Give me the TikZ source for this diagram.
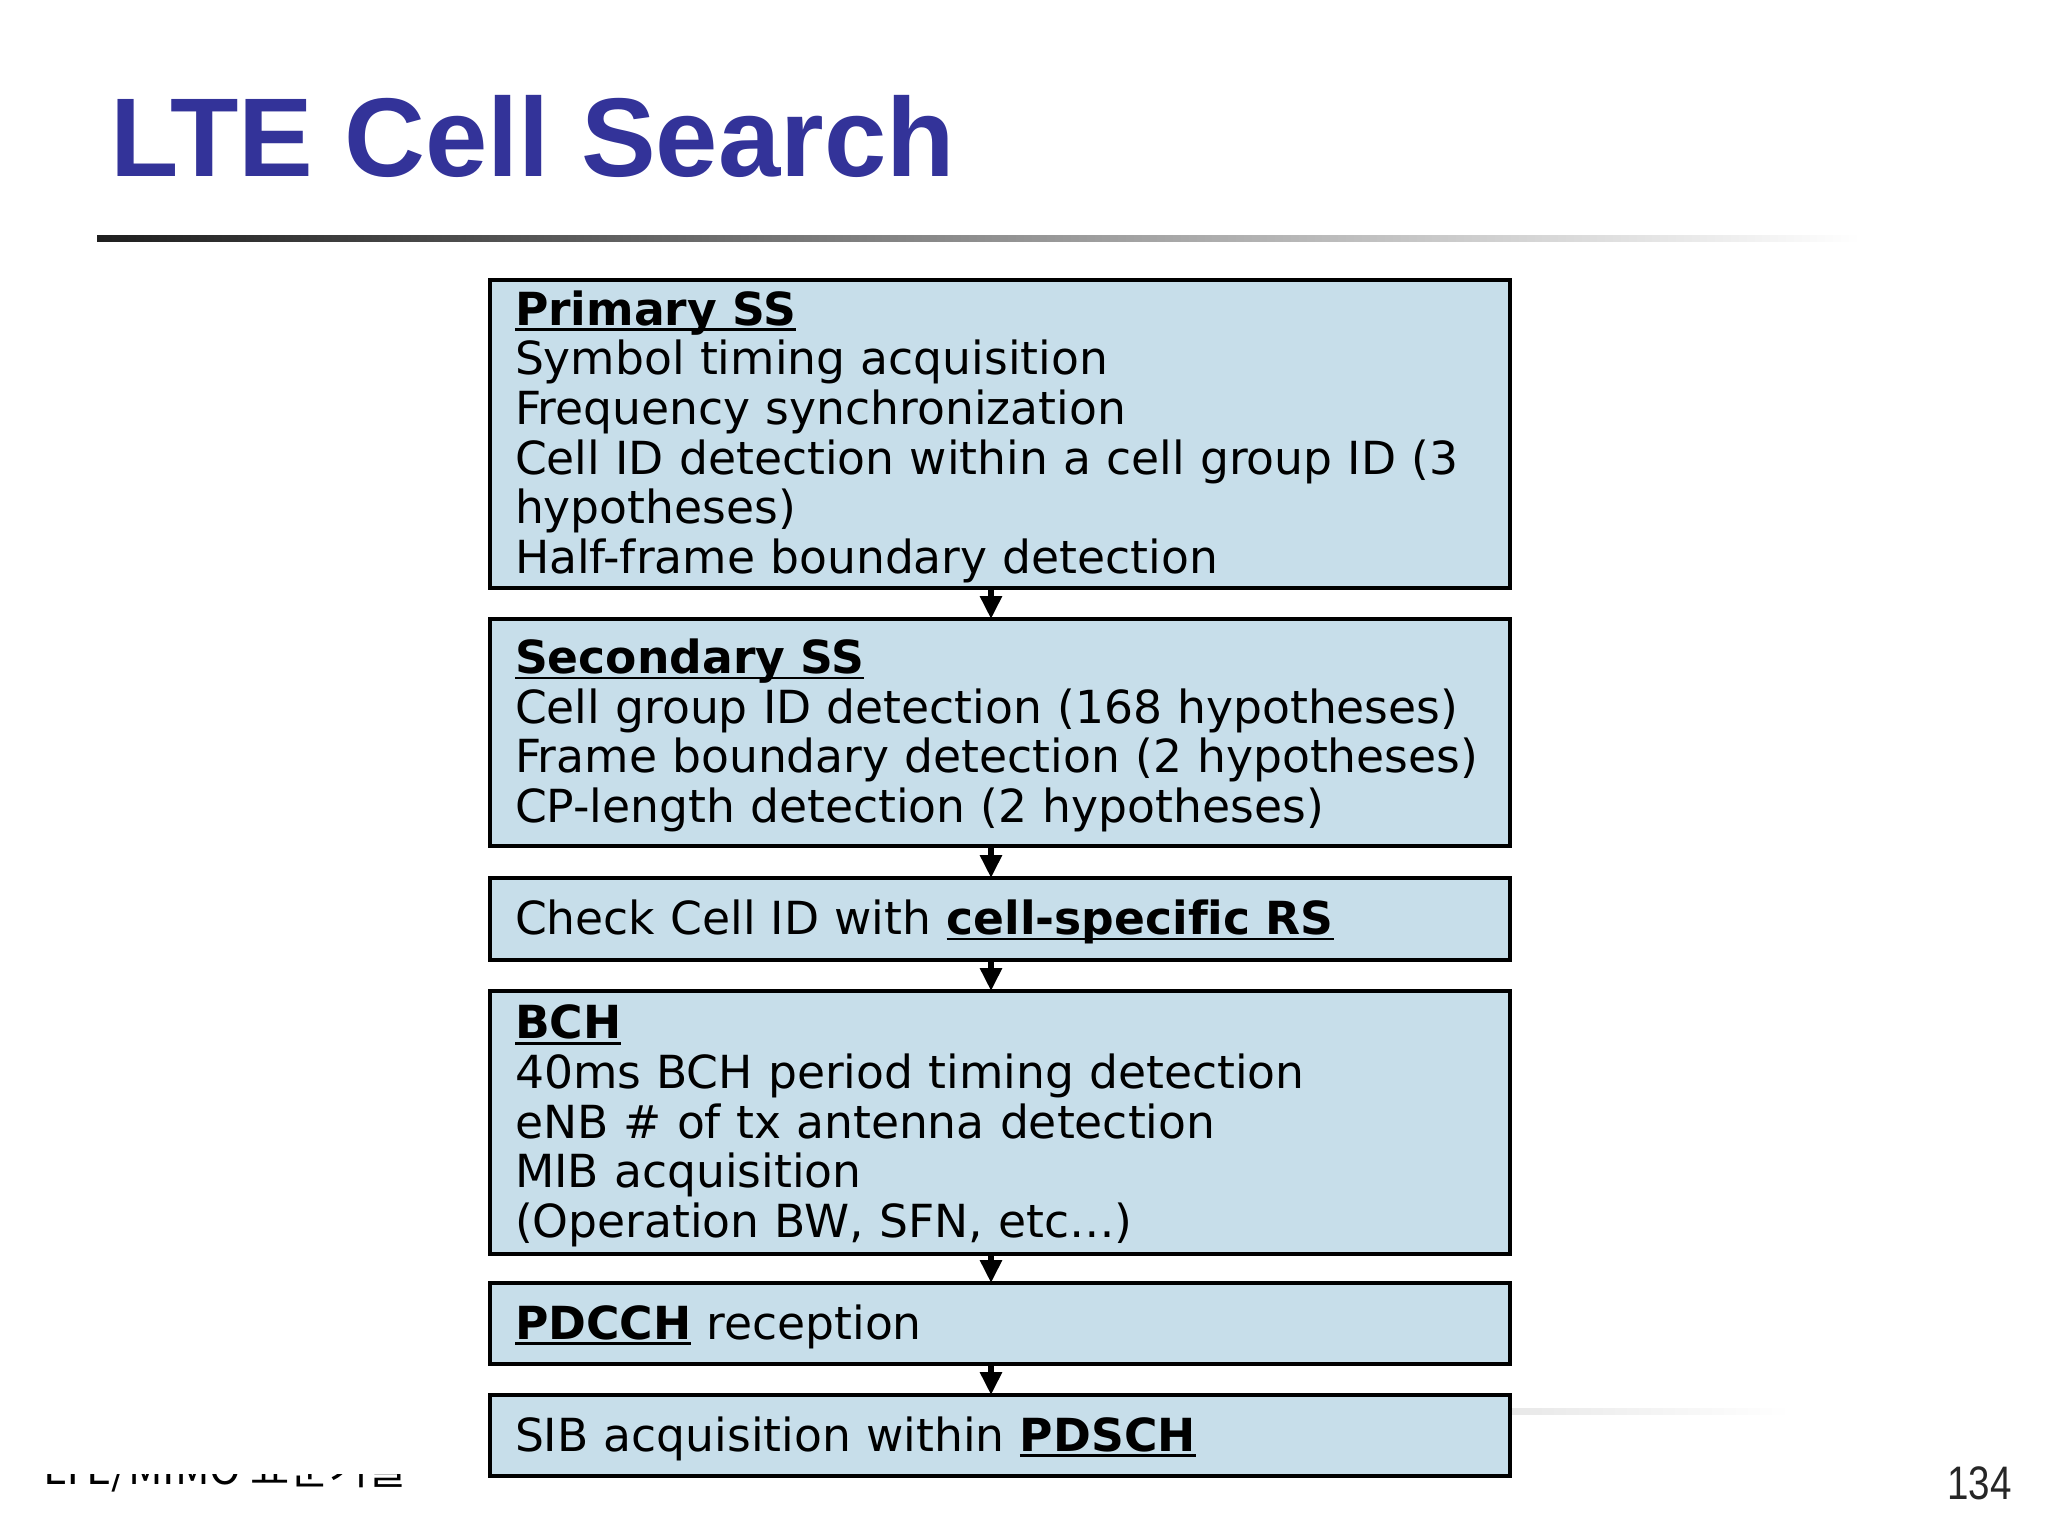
\documentclass[tikz,border=0pt]{standalone}
\usepackage{fontspec}
\usepackage{graphicx}
\setmainfont{DejaVu Sans}[Ligatures=NoCommon]
\newfontfamily\titlefont{Liberation Sans}
\newfontfamily\krfont{Noto Sans CJK KR}
\usetikzlibrary{arrows.meta}
\definecolor{titleblue}{RGB}{51,51,153}
\definecolor{boxfill}{RGB}{199,222,234}
\newlength\myulw
\newcommand\myul[1]{\settowidth{\myulw}{#1}\rlap{\rule[-2.8pt]{\myulw}{1.3pt}}#1}
\begin{document}
\begin{tikzpicture}[x=0.5pt,y=-0.5pt,
  stepbox/.style={draw=black, line width=2pt, fill=boxfill, anchor=north west,
    outer sep=0pt, minimum width=510pt, inner xsep=12.5pt, inner ysep=0pt,
    text width=485pt, align=left, font=\fontsize{22.8pt}{24.8pt}\selectfont,
    execute at begin node={\rule{0pt}{21.6pt}},
    execute at end node={\rule[-6pt]{0pt}{6pt}}},
  arr/.style={-{Triangle[width=10.5pt,length=11.5pt]}, line width=3pt}]
\useasboundingbox (0,0) rectangle (2048,1531);
\fill[white] (0,0) rectangle (2048,1531);
% title
\node[anchor=base west, inner sep=0pt, text=titleblue,
  font=\titlefont\bfseries\fontsize{56pt}{60pt}\selectfont] (title) at (110,176) {LTE Cell Search};
\shade[left color=black!88, right color=white] (97,235) rectangle (1860,241);
% boxes
\node[stepbox, minimum height=154.25pt] (b1) at (490,279.5) {\myul{\textbf{Primary SS}}\\
Symbol timing acquisition\\
Frequency synchronization\\
Cell ID detection within a cell group ID (3\\
hypotheses)\\
Half-frame boundary detection};
\node[stepbox, minimum height=113.5pt] (b2) at (490,619) {\myul{\textbf{Secondary SS}}\\
Cell group ID detection (168 hypotheses)\\
Frame boundary detection (2 hypotheses)\\
CP-length detection (2 hypotheses)};
\node[stepbox, minimum height=41pt] (b3) at (490,878) {Check Cell ID with \myul{\textbf{cell-specific RS}}};
\node[stepbox, minimum height=131.5pt] (b4) at (490,991) {\myul{\textbf{BCH}}\\
40ms BCH period timing detection\\
eNB \# of tx antenna detection\\
MIB acquisition\\
(Operation BW, SFN, etc…)};
\node[stepbox, minimum height=40.5pt] (b5) at (490,1283) {\myul{\textbf{PDCCH}} reception};
\node[stepbox, minimum height=40.5pt] (b6) at (490,1395) {SIB acquisition within \myul{\textbf{PDSCH}}};
% connectors
\foreach \a/\b in {b1/b2,b2/b3,b3/b4,b4/b5,b5/b6}
  \draw[arr] ([xshift=-4.5pt]\a.south) -- ([xshift=-4.5pt]\b.north);
% footer
\shade[left color=black!9, right color=white] (1512,1408) rectangle (1790,1414);
\begin{scope}
\clip (0,1474) rectangle (700,1531);
\node[anchor=base west, inner sep=0pt, font=\krfont\fontsize{21.3pt}{24pt}\selectfont] (footer) at (43,1484) {LTE/MIMO 표준기술};
\end{scope}
\node[anchor=base east, inner sep=0pt, text=black!85,
  font=\titlefont\fontsize{23.5pt}{28pt}\selectfont] (pnum) at (2012,1499) {\scalebox{0.82}[1]{134}};
\end{tikzpicture}
\end{document}
